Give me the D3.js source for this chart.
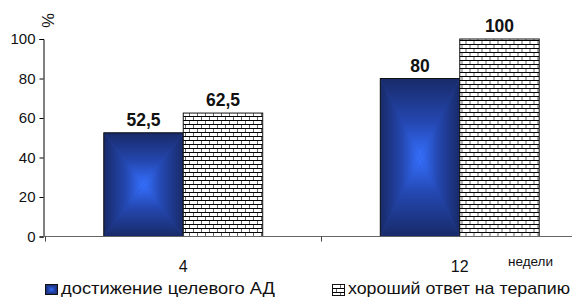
<!DOCTYPE html>
<html>
<head>
<meta charset="utf-8">
<script src="https://cdn.jsdelivr.net/npm/d3@7"></script>
<style>
  body { margin: 0; background: #fff; }
  svg { display: block; font-family: "Liberation Sans", Arial, sans-serif; }
</style>
</head>
<body>
<div id="chart"></div>
<script>
// data
const categories = ["4", "12"];
const seriesNames = ["достижение целевого АД", "хороший ответ на терапию"];
const targetBP = [52.5, 80];
const goodResponse = [62.5, 100];
const yTicks = [0, 20, 40, 60, 80, 100];

const width = 572, height = 297;

const svg = d3.select("#chart").append("svg")
    .attr("width", width)
    .attr("height", height);

const defs = svg.append("defs");

// brick fill
const brick = defs.append("pattern")
    .attr("id", "brick")
    .attr("patternUnits", "userSpaceOnUse")
    .attr("width", 8).attr("height", 8);
brick.append("rect").attr("width", 8).attr("height", 8).attr("fill", "#fff");
brick.append("rect").attr("x", 0).attr("y", 0).attr("width", 8).attr("height", 1).attr("fill", "#000");
brick.append("rect").attr("x", 0).attr("y", 4).attr("width", 8).attr("height", 1).attr("fill", "#000");
brick.append("rect").attr("x", 0).attr("y", 1).attr("width", 1).attr("height", 3).attr("fill", "#666");
brick.append("rect").attr("x", 4).attr("y", 5).attr("width", 1).attr("height", 3).attr("fill", "#666");

// rectangular "from centre" gradient, built from 4 linear gradients
const dark = "#182a68", mid = "#2447b0", light = "#3570ff";
[["gl", 0, 0, 1, 0], ["gr", 1, 0, 0, 0], ["gt", 0, 0, 0, 1], ["gb", 0, 1, 0, 0]].forEach(([id, x1, y1, x2, y2]) => {
    const g = defs.append("linearGradient").attr("id", id)
        .attr("x1", x1).attr("y1", y1).attr("x2", x2).attr("y2", y2);
    g.append("stop").attr("offset", 0).attr("stop-color", dark);
    g.append("stop").attr("offset", 0.55).attr("stop-color", mid);
    g.append("stop").attr("offset", 1).attr("stop-color", light);
});

function boxGradient(sel, x, y, w, h) {
    const cx = x + w / 2, cy = y + h / 2;
    sel.append("rect")
        .attr("x", x).attr("y", y).attr("width", w).attr("height", h)
        .attr("fill", mid);
    const tris = [
        ["gt", [[x, y], [cx, cy], [x + w, y]]],
        ["gb", [[x, y + h], [cx, cy], [x + w, y + h]]],
        ["gl", [[x, y], [cx, cy], [x, y + h]]],
        ["gr", [[x + w, y], [cx, cy], [x + w, y + h]]]
    ];
    tris.forEach(([id, pts]) => {
        sel.append("polygon")
            .attr("points", pts.map(p => p.join(",")).join(" "))
            .attr("fill", `url(#${id})`);
    });
    sel.append("rect")
        .attr("x", x).attr("y", y).attr("width", w).attr("height", h)
        .attr("fill", "none").attr("stroke", "#111").attr("stroke-width", 1);
}

const y = d3.scaleLinear().domain([0, 100]).range([236.5, 39]);

const x0 = d3.scaleBand().domain(categories).range([45, 598]).padding(0);
const x1 = d3.scaleBand().domain([0, 1]).range([0, x0.bandwidth()])
    .paddingInner(0).paddingOuter(0.74);

// y axis
const yAxis = svg.append("g")
    .attr("transform", "translate(43.5,0)")
    .call(d3.axisLeft(y).tickValues(yTicks).tickSize(4).tickPadding(4));
yAxis.select(".domain").attr("stroke", "#000");
yAxis.selectAll(".tick line").attr("stroke", "#000");
yAxis.selectAll(".tick text")
    .attr("font-size", "15px")
    .attr("fill", "#111")
    .attr("font-family", "Liberation Sans, Arial, sans-serif");

svg.append("text")
    .attr("transform", "translate(54,20.5) rotate(-90)")
    .attr("text-anchor", "middle")
    .attr("font-size", "16.5px")
    .attr("fill", "#111")
    .text("%");

// bars
const groups = svg.selectAll(".grp")
    .data(categories)
    .enter().append("g")
    .attr("class", "grp")
    .attr("transform", d => `translate(${x0(d)},0)`);

groups.each(function (d, i) {
    const g = d3.select(this);
    const bx = x1(0), bw = x1.bandwidth();
    boxGradient(g, bx, y(targetBP[i]), bw, y(0) - y(targetBP[i]));
    g.append("rect")
        .attr("x", x1(1)).attr("y", y(goodResponse[i]))
        .attr("width", bw).attr("height", y(0) - y(goodResponse[i]))
        .attr("fill", "url(#brick)")
        .attr("stroke", "#111").attr("stroke-width", 1);

    [targetBP[i], goodResponse[i]].forEach((v, k) => {
        g.append("text")
            .attr("x", x1(k) + bw / 2)
            .attr("y", y(v) - 7)
            .attr("text-anchor", "middle")
            .attr("font-size", "17.5px")
            .attr("font-weight", "bold")
            .attr("fill", "#111")
            .text(String(v).replace(".", ","));
    });
});

// x axis
svg.append("line")
    .attr("x1", 43).attr("x2", width)
    .attr("y1", 236.5).attr("y2", 236.5)
    .attr("stroke", "#666").attr("stroke-width", 1);

svg.selectAll(".xtick")
    .data(categories)
    .enter().append("line")
    .attr("class", "xtick")
    .attr("x1", d => Math.floor(x0(d)) + 0.5).attr("x2", d => Math.floor(x0(d)) + 0.5)
    .attr("y1", 236.5).attr("y2", 241.5)
    .attr("stroke", "#444");

svg.selectAll(".xlab")
    .data(categories)
    .enter().append("text")
    .attr("class", "xlab")
    .attr("x", d => x0(d) + x0.bandwidth() / 2)
    .attr("y", 272)
    .attr("text-anchor", "middle")
    .attr("font-size", "16px")
    .attr("fill", "#111")
    .text(d => d);

svg.append("text")
    .attr("x", 508).attr("y", 266)
    .attr("font-size", "13.5px")
    .attr("fill", "#111")
    .text("недели");

// legend
const legendX = [45, 332];
const legendTextW = [214, 222];
const leg = svg.selectAll(".leg")
    .data(seriesNames)
    .enter().append("g")
    .attr("class", "leg")
    .attr("transform", (d, i) => `translate(${legendX[i]},284)`);

leg.each(function (d, i) {
    const g = d3.select(this);
    if (i === 0) {
        boxGradient(g, 0.5, 0.5, 12, 10);
    } else {
        g.append("rect").attr("x", 0.5).attr("y", 0.5).attr("width", 12).attr("height", 11)
            .attr("fill", "url(#brick)").attr("stroke", "#111");
    }
    g.append("text")
        .attr("x", 16)
        .attr("y", 9.5)
        .attr("font-size", "16.5px")
        .attr("fill", "#111")
        .attr("textLength", legendTextW[i])
        .attr("lengthAdjust", "spacingAndGlyphs")
        .text(d);
});
</script>
</body>
</html>
